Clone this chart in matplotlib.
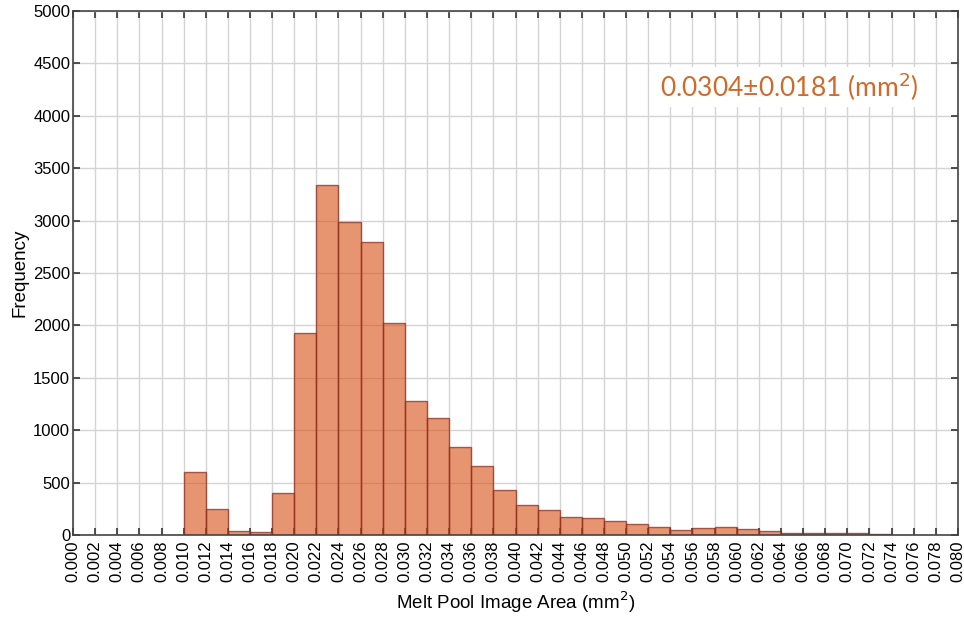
import numpy as np
import matplotlib
matplotlib.use("Agg")
import matplotlib.pyplot as plt

# Histogram of melt pool image areas (mm^2), bins of 0.002 starting at 0.010
bin_start = 0.010
bin_width = 0.002
counts = [605, 245, 41, 32, 400,
          1925, 3335, 2990, 2795, 2025,
          1281, 1113, 843, 661, 429,
          283, 238, 175, 159, 137,
          102, 73, 48, 64, 73,
          62, 41, 22, 22, 22,
          22, 8]
x_ticks = [round(0.002 * i, 3) for i in range(41)]
y_ticks = list(range(0, 5001, 500))
stats_label = "0.0304\u00b10.0181 (mm$^2$)"

plt.rcParams['font.family'] = ['Liberation Sans', 'DejaVu Sans']

fig = plt.figure(figsize=(9.64, 6.17), dpi=100)
ax = fig.add_axes([73 / 964, (617 - 535) / 617, (958 - 73) / 964, (535 - 11) / 617])

lefts = bin_start + bin_width * np.arange(len(counts))
ax.bar(lefts, counts, width=bin_width, align='edge',
       facecolor=(0.85, 0.325, 0.098, 0.62),
       edgecolor=(0.55, 0.18, 0.12, 0.75), linewidth=1.0, zorder=3)

ax.set_xlim(x_ticks[0], x_ticks[-1])
ax.set_ylim(y_ticks[0], y_ticks[-1])
ax.set_xticks(x_ticks)
ax.set_xticklabels([f"{v:.3f}" for v in x_ticks], rotation=90)
ax.set_yticks(y_ticks)

ax.grid(True, color='#d4d4d4', linewidth=1.0, zorder=0)
ax.set_axisbelow(True)
ax.tick_params(direction='in', length=5, width=1.2, color='#333333',
               top=True, right=True, labelsize=12, pad=2)
ax.tick_params(axis='x', pad=4)
for s in ax.spines.values():
    s.set_color('#444444')
    s.set_linewidth(1.2)
    s.set_zorder(4)

ax.set_xlabel("Melt Pool Image Area (mm$^2$)", fontsize=13.5, labelpad=5)
ax.set_ylabel("Frequency", fontsize=13.5, labelpad=3)

ax.text(0.955, 0.855, stats_label, transform=ax.transAxes, ha='right', va='center',
        fontsize=19, color='#cf6a2a', family=['Lato', 'DejaVu Sans'],
        bbox=dict(facecolor='white', edgecolor='none', pad=3))

fig.savefig("out.png", dpi=100)
